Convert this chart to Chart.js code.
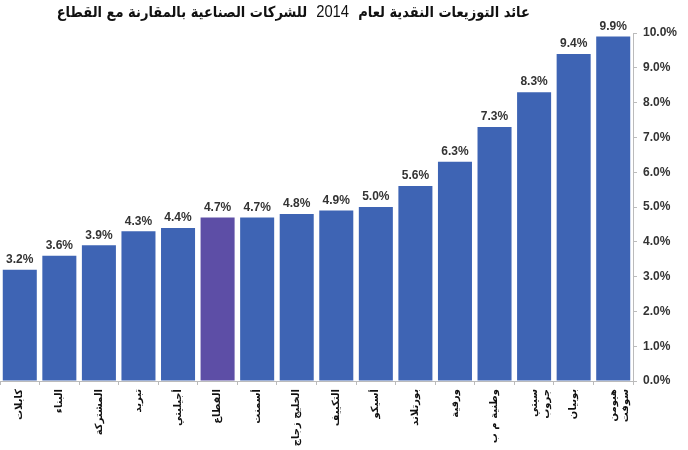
<!DOCTYPE html>
<html>
<head>
<meta charset="utf-8">
<script src="https://cdn.jsdelivr.net/npm/chart.js@4.4.1/dist/chart.umd.min.js"></script>
<style>
    body { margin: 0; background: #fff; }
    #wrap { position: relative; width: 688px; height: 450px; }
    #chartTitle {
        position: absolute; right: 158px; top: 2px;
        font: bold 15px "DejaVu Sans", sans-serif; color: #111;
        direction: rtl; white-space: nowrap;
        transform: scaleX(0.87); transform-origin: right top;
    }
    #chartTitle span { font-weight: normal; font-family: Arial, "Liberation Sans", sans-serif; font-size: 17px; }
</style>
</head>
<body>
<div id="wrap">
    <div id="chartTitle">عائد التوزيعات النقدية لعام &nbsp;<span>2014</span>&nbsp; للشركات الصناعية بالمقارنة مع القطاع</div>
    <canvas id="barCanvas" width="688" height="450"></canvas>
</div>
<script>
const companies = [
    "كابلات", "البناء", "المشتركة", "تبريد", "أجيليتي", "القطاع", "أسمنت",
    "الخليج زجاج", "التكييف", "أسيكو", "بورتلاند", "ورقية", "وطنية م ب",
    ["سيتي", "جروب"], "بوبيان", ["هيومن", "سوفت"]
];
const yieldValues = [3.2, 3.6, 3.9, 4.3, 4.4, 4.7, 4.7, 4.8, 4.9, 5.0, 5.6, 6.3, 7.3, 8.3, 9.4, 9.9];
const yTicks = [0, 1, 2, 3, 4, 5, 6, 7, 8, 9, 10];
const sectorIndex = 5;

const barColors = yieldValues.map((v, i) => i === sectorIndex ? "#5d4ea6" : "#3e64b4");

// draws the value above each bar
const valueLabels = {
    id: "valueLabels",
    afterDatasetsDraw(chart) {
        const ctx = chart.ctx;
        const meta = chart.getDatasetMeta(0);
        ctx.save();
        ctx.font = "bold 12px Arial, 'Liberation Sans', sans-serif";
        ctx.fillStyle = "#333";
        ctx.textAlign = "center";
        ctx.textBaseline = "bottom";
        meta.data.forEach((bar, i) => {
            ctx.fillText(yieldValues[i].toFixed(1) + "%", bar.x, bar.y - 4);
        });
        ctx.restore();
    }
};

new Chart(document.getElementById("barCanvas"), {
    type: "bar",
    data: {
        labels: companies,
        datasets: [{
            data: yieldValues,
            backgroundColor: barColors,
            barPercentage: 0.86,
            categoryPercentage: 1.0
        }]
    },
    options: {
        responsive: false,
        animation: false,
        layout: { padding: { top: 33, left: 0, right: 0, bottom: 0 } },
        plugins: {
            legend: { display: false },
            tooltip: { enabled: false }
        },
        scales: {
            x: {
                offset: true,
                grid: { display: true, drawOnChartArea: false, offset: true, tickLength: 4, color: "#bbb" },
                border: { display: true, color: "#bbb" },
                ticks: {
                    minRotation: 90, maxRotation: 90, autoSkip: false,
                    padding: 4,
                    color: "#111",
                    font: { size: 10, weight: "bold", family: "'DejaVu Sans', sans-serif" }
                },
                afterFit(scale) { scale.height = 69; }
            },
            y: {
                position: "right",
                min: 0, max: 10,
                afterBuildTicks(scale) { scale.ticks = yTicks.map(v => ({ value: v })); },
                grid: { display: true, drawOnChartArea: false, tickLength: 4, color: "#bbb" },
                border: { display: true, color: "#bbb" },
                ticks: {
                    color: "#333",
                    padding: 6,
                    font: { size: 12, weight: "bold", family: "Arial, 'Liberation Sans', sans-serif" },
                    callback: (v) => v.toFixed(1) + "%"
                },
                afterFit(scale) { scale.width = 55; }
            }
        }
    },
    plugins: [valueLabels]
});
</script>
</body>
</html>
